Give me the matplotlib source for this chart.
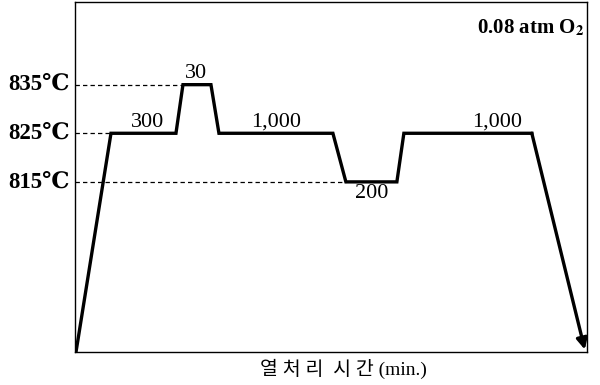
import matplotlib.pyplot as plt

plt.rcParams["mathtext.fontset"] = "stix"

# heat-treatment profile (time axis is schematic, temperature in deg C)
time_pts = [1, 36, 101, 108, 136, 144, 258, 271, 322, 329, 457]
temp_pts = [780, 825, 825, 835, 835, 825, 825, 815, 815, 825, 825]
end_pt = (510, 780.5)

levels = [835, 825, 815]
level_labels = ["835℃", "825℃", "815℃"]
level_dash_end = [108, 36, 271]

hold_labels = ["300", "30", "1,000", "200", "1,000"]
hold_x = [73, 121, 201, 297, 422]
hold_y = [825, 835, 825, 815, 825]
hold_side = ["above", "above", "above", "below", "above"]

serif = ["Liberation Serif", "DejaVu Serif"]

fig = plt.figure(figsize=(6, 3.85), dpi=100)
ax = fig.add_axes([0.125, 0.0857, 0.853, 0.909])

ax.set_xlim(0, 512)
ax.set_ylim(780, 852)

# dashed guide lines
for lv, xe in zip(levels, level_dash_end):
    ax.plot([0, xe], [lv, lv], color="black", lw=0.9, ls=(0, (3.5, 2.5)))

ax.plot(time_pts, temp_pts, color="black", lw=2.4, solid_joinstyle="miter")
ax.annotate("", xy=end_pt, xytext=(time_pts[-1], temp_pts[-1]),
            arrowprops=dict(arrowstyle="-|>", color="black", lw=2.4,
                            mutation_scale=16, shrinkA=0, shrinkB=0))

for lab, x, y, side in zip(hold_labels, hold_x, hold_y, hold_side):
    if side == "above":
        ax.text(x, y + 0.3, lab, ha="center", va="bottom", fontsize=16, family=serif)
    else:
        ax.text(x, y - 0.4, lab, ha="center", va="top", fontsize=16, family=serif)

for lv, lab in zip(levels, level_labels):
    ax.text(-0.01, lv, lab, transform=ax.get_yaxis_transform(), ha="right",
            va="center", fontsize=16.5, fontweight="bold", family=serif)

ax.text(0.995, 0.925, r"0.08 atm O$_\mathbf{2}$", transform=ax.transAxes,
        ha="right", va="center", fontsize=15, fontweight="bold", family=serif)

ax.set_xticks([])
ax.set_yticks([])
for sp in ax.spines.values():
    sp.set_linewidth(1.0)
    sp.set_color("black")

fig.text(0.573, 0.042, "열 처 리  시 간 (min.)", ha="center", va="center",
         fontsize=14, family=["Liberation Serif", "Noto Sans CJK KR"])

fig.savefig("out.png", dpi=100)
